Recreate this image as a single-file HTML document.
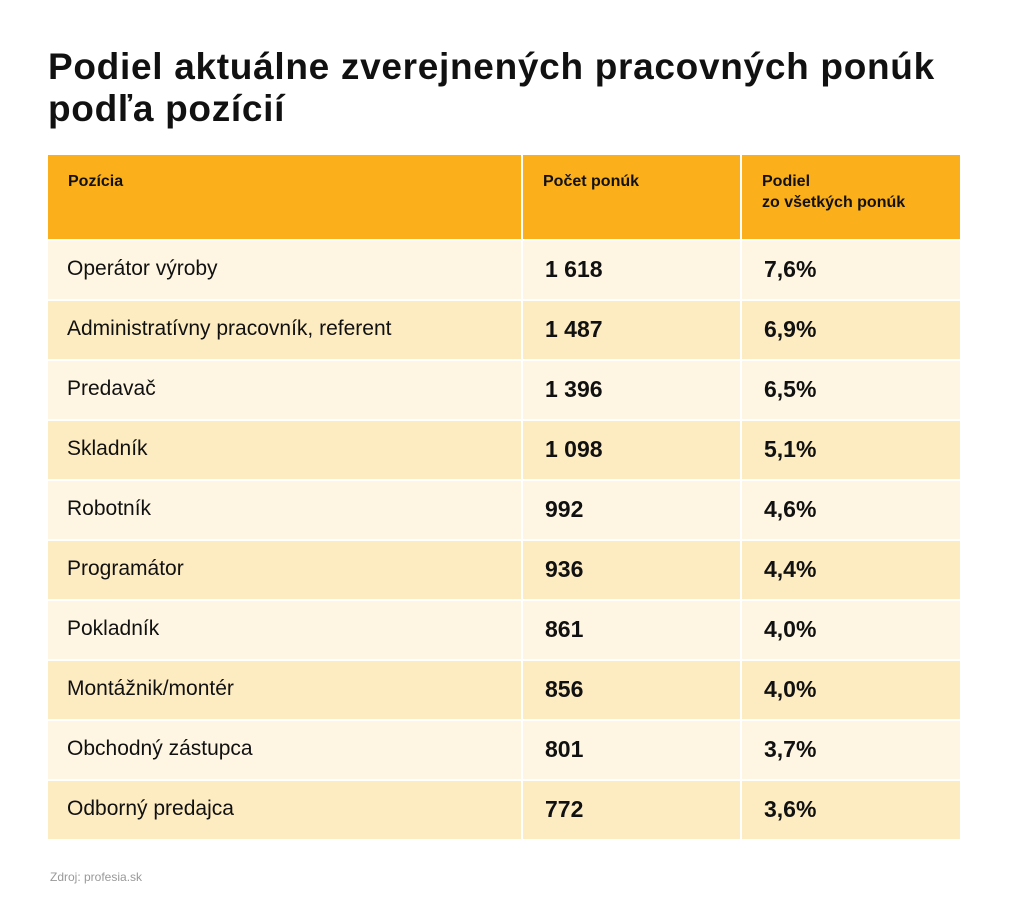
<!DOCTYPE html>
<html><head><meta charset="utf-8"><style>
body{margin:0;width:1024px;height:912px;background:#fff;font-family:"Liberation Sans",sans-serif;position:relative;overflow:hidden;color:#111}
.t{position:absolute;left:48px;top:46px;font-size:37px;font-weight:bold;line-height:42px;letter-spacing:0.7px;color:#111}
.c{position:absolute;box-sizing:border-box}
.h{background:#FBAF1A;font-size:16px;font-weight:bold;padding:16px 0 0 20px;line-height:21px}
.r{font-size:21px;line-height:56px;padding-left:19px}
.n{font-weight:bold;font-size:23px;padding-left:22px}
.src{position:absolute;left:50px;top:870px;font-size:12px;color:#999}
</style></head><body>
<div class="t">Podiel aktuálne zverejnených pracovných ponúk<br>podľa pozícií</div>
<div class="c h" style="left:48px;top:155px;width:473px;height:84px">Pozícia</div>
<div class="c h" style="left:523px;top:155px;width:217px;height:84px">Počet ponúk</div>
<div class="c h" style="left:742px;top:155px;width:218px;height:84px">Podiel<br>zo všetkých ponúk</div>
<div class="src">Zdroj: profesia.sk</div>
<script>
const positions=["Operátor výroby","Administratívny pracovník, referent","Predavač","Skladník","Robotník","Programátor","Pokladník","Montážnik/montér","Obchodný zástupca","Odborný predajca"];
const counts=["1 618","1 487","1 396","1 098","992","936","861","856","801","772"];
const shares=["7,6%","6,9%","6,5%","5,1%","4,6%","4,4%","4,0%","4,0%","3,7%","3,6%"];
const cols=[[48,473],[523,217],[742,218]];
positions.forEach((p,i)=>{
  const vals=[p,counts[i],shares[i]];
  vals.forEach((v,j)=>{
    const d=document.createElement('div');
    d.className='c r'+(j>0?' n':'');
    
    
    d.style.left=cols[j][0]+'px';d.style.width=cols[j][1]+'px';
    d.style.top=(241+i*60)+'px';d.style.height='58px';
    d.style.background=i%2?'#FDEBC1':'#FEF6E2';
    d.textContent=v;
    document.body.appendChild(d);
  });
});
</script>
</body></html>
